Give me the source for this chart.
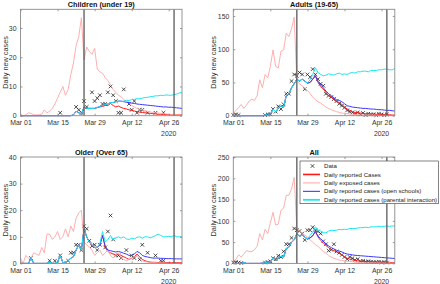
<!DOCTYPE html>
<html>
<head>
<meta charset="utf-8">
<script src="https://cdn.jsdelivr.net/npm/d3@7"></script>
<style>
  body { margin: 0; background: #fff; }
  svg { display: block; font-family: "Liberation Sans", Arial, sans-serif; }
</style>
</head>
<body>
<script>
// daily values, one entry per day from 2020-03-01 to 2020-05-01
// prettier-ignore
const childrenExposed = [
  0, 0, 0.3, 1, 0.8, 0.3, 0.3, 0.3, 0.5, 2,
  1, 1.5, 2.5, 4, 6, 8, 10, 7, 9, 14,
  18, 24, 27, 33.5, 19, 23.5, 22, 21, 23, 16,
  15, 14.5, 13, 12, 10.5, 9, 8, 7, 6.5, 5.5,
  5, 4.5, 3.5, 3, 2.5, 2.2, 2, 1.8, 1.5, 1.3,
  1.1, 1, 0.9, 0.8, 0.7, 0.6, 0.5, 0.4, 0.4, 0.3,
  0.3, 0.3];
// prettier-ignore
const childrenReported = [
  0, 0, 0, 0, 0, 0, 0, 0, 0, 0,
  0, 0, 0, 0, 0, 0, 0, 0, 0, 0,
  0.3, 1.5, 1, 0.5, 3, 2.5, 2.5, 2.5, 2.5, 2.8,
  3, 3.2, 3.5, 3.5, 4.2, 3.5, 3, 3.3, 2.8, 2.5,
  2.3, 2, 1.8, 1.6, 1.4, 1.2, 1.1, 1, 0.9, 0.8,
  0.7, 0.6, 0.5, 0.5, 0.4, 0.4, 0.4, 0.3, 0.3, 0.3,
  0.3, 0.3];
// prettier-ignore
const childrenOpenSchools = [
  0, 0, 0, 0, 0, 0, 0, 0, 0, 0,
  0, 0, 0, 0, 0, 0, 0, 0, 0, 0,
  0.3, 1.5, 1, 0.5, 3, 2.5, 2.5, 2.5, 2.5, 2.8,
  3.2, 3.5, 3.8, 4, 4.5, 4.5, 4.8, 5, 5, 4.8,
  4.6, 4.5, 4.3, 4.2, 4, 3.9, 3.8, 3.7, 3.6, 3.5,
  3.4, 3.3, 3.2, 3.1, 3, 3, 2.9, 2.9, 2.8, 2.7,
  2.6, 2.5];
// prettier-ignore
const childrenParental = [
  0, 0, 0, 0, 0, 0, 0, 0, 0, 0,
  0, 0, 0, 0, 0, 0, 0, 0, 0, 0,
  0.3, 1.5, 1, 0.5, 3, 2.5, 2.5, 2.5, 2.5, 2.8,
  3.2, 3.5, 3.8, 4, 4.5, 4.5, 4.8, 5, 4.8, 5,
  5.3, 5.2, 5.5, 5.6, 5.8, 5.8, 6, 6.2, 6.3, 6.5,
  6.6, 6.8, 6.8, 7, 6.9, 7.1, 7, 7, 7.2, 7.4,
  7.8, 8];
// prettier-ignore
const childrenData = [
  null, null, null, null, null, null, null, null, null, null,
  null, null, null, null, null, 1, null, null, null, null,
  null, 3, 2, 1, 5, 3, null, 8, 5, 6,
  7, 4, 4, 8, 10, 7, 5, 1, 1, 9,
  null, 4, 2, 5, 1, 2, 2, null, 1, null,
  null, 1, null, null, 1, null, null, null, null, null,
  null, null];

// prettier-ignore
const adultsExposed = [
  3, 8, 12, 17, 11, 16, 22, 25, 23, 30,
  54, 42, 62, 57, 74, 99, 74, 72, 97, 99,
  124, 119, 131, 148, 52, 48, 45, 42, 38, 33,
  28, 24, 21, 19, 16, 13, 11, 9, 7.5, 6,
  5, 4, 3.5, 3, 2.5, 2, 1.8, 1.6, 1.4, 1.2,
  1.1, 1, 0.9, 0.8, 0.8, 0.7, 0.6, 0.6, 0.5, 0.5,
  0.5, 0.5];
// prettier-ignore
const adultsReported = [
  0, 0, 0, 0, 0, 0, 0, 0, 0, 0,
  0, 0, 1, 3, 2, 10, 6, 11, 15, 13,
  30, 33, 42, 48, 55, 52, 55, 52, 49, 50,
  55, 60, 50, 44, 40, 35, 30, 28, 24, 21,
  20, 17, 13, 10, 8, 6, 5, 4.5, 4, 3.5,
  3, 3, 2.5, 2.5, 2, 2, 2, 1.5, 1.5, 1.5,
  1, 1];
// prettier-ignore
const adultsOpenSchools = [
  0, 0, 0, 0, 0, 0, 0, 0, 0, 0,
  0, 0, 1, 3, 2, 10, 6, 11, 15, 13,
  30, 33, 42, 48, 55, 52, 55, 52, 49, 50,
  55, 60, 52, 46, 42, 37, 33, 30, 27, 24,
  23, 21, 18, 15, 14, 13, 12.5, 12, 11.5, 11,
  11, 10.5, 10, 10, 9.5, 9, 9, 8.5, 8, 8,
  7.5, 7];
// prettier-ignore
const adultsParental = [
  0, 0, 0, 0, 0, 0, 0, 0, 0, 0,
  0, 0, 1, 3, 2, 10, 6, 11, 15, 13,
  30, 33, 42, 48, 55, 52, 55, 52, 49, 54,
  62, 72, 65, 62, 60, 61, 63, 62, 61, 63,
  64, 62, 63, 62, 64, 65, 64, 66, 66, 67,
  67, 66, 68, 68, 68, 69, 69, 70, 70, 69,
  69, 71];
// prettier-ignore
const adultsData = [
  1, 2, 1, null, null, null, null, null, null, null,
  null, null, 1, 2, 2, 10, 6, 14, 10, 17,
  33, 33, 52, 62, 60, 65, 62, 40, 62, 58,
  70, 62, 55, 48, 45, 33, 30, 28, 25, 22,
  18, 15, 12, 8, 6, 5, 3, 5, 2, 4,
  1, 3, 2, 2, 1, 3, 2, 1, 2, null,
  null, null];

// prettier-ignore
const olderExposed = [
  2, 0, 3, 2, 2, 4, 3.5, 3, 6, 4,
  11, 11, 9, 10, 12, 9, 10, 13, 10, 14,
  12, 17, 19, 20, 8, 7, 6, 5, 3, 4,
  5, 3, 4, 5, 3, 2, 3, 4, 2, 1.5,
  1, 1.5, 2, 2.5, 3, 2, 1, 0.7, 0.5, 0.4,
  0.3, 0.3, 0.2, 0.2, 0.2, 0.1, 0.1, 0.1, 0.1, 0.1,
  0.1, 0.1];
// prettier-ignore
const olderReported = [
  0, 0, 0, 0, 2, 0, 0, 0, 0, 0,
  0, 0.5, 0, 0, 0.5, 3, 0.3, 0.5, 1, 2,
  2.5, 5, 7, 5, 13, 10, 8, 7, 6, 6,
  7, 10.5, 6, 4.5, 4, 3.5, 3, 3.5, 3, 2.5,
  2, 1.5, 2, 2.5, 3.5, 2.5, 1.5, 1, 0.7, 0.5,
  0.4, 0.4, 0.3, 0.3, 0.3, 0.3, 0.3, 0.3, 0.3, 0.3,
  0.3, 0.3];
// prettier-ignore
const olderOpenSchools = [
  0, 0, 0, 0, 2, 0, 0, 0, 0, 0,
  0, 0.5, 0, 0, 0.5, 3, 0.3, 0.5, 1, 2,
  2.5, 5, 7, 5, 13, 10, 8, 7, 6, 6,
  7, 10.5, 6.5, 5, 4.8, 4.5, 4.3, 4.5, 4.2, 3.8,
  3.5, 3, 3, 3.5, 4.5, 4, 3, 2.6, 2.4, 2.2,
  2, 2, 2, 1.9, 1.9, 1.8, 1.8, 1.8, 1.7, 1.7,
  1.7, 1.7];
// prettier-ignore
const olderParental = [
  0, 0, 0, 0, 2, 0, 0, 0, 0, 0,
  0, 0.5, 0, 0, 0.5, 3, 0.3, 0.5, 1, 2,
  2.5, 5, 7, 5, 13, 10, 8, 7, 6, 6,
  7.5, 12, 8, 9, 10.5, 9, 9.5, 10, 9.5, 10,
  9.2, 9, 9.5, 9.2, 9.8, 10, 9.5, 10, 10, 9.6,
  10, 10.5, 11, 10.5, 10, 10, 10.2, 10, 10.5, 10,
  10, 10];
// prettier-ignore
const olderData = [
  null, null, null, null, 2, null, null, null, null, null,
  null, 1, null, 1, null, 3, null, null, 1, 4,
  4, 7, 7, 5, 14, 13, 8.5, 6.5, 7, 5,
  7, null, 6, 12, 18, 9, 3, 3, 2, null,
  5, null, 3, 2, null, 1.5, 7, null, 4, null,
  null, 3, null, 1, 1, null, null, null, null, null,
  null, null];

// prettier-ignore
const allExposed = [
  5, 10, 20, 15, 22, 30, 28, 28, 32, 40,
  70, 55, 80, 70, 95, 120, 90, 92, 125, 130,
  160, 160, 175, 202, 82, 76, 72, 66, 62, 55,
  50, 44, 40, 34, 28, 24, 18, 15, 12, 10,
  8, 7, 6, 5, 4.5, 4, 3, 2.5, 2, 1.8,
  1.5, 1.4, 1.3, 1.2, 1.1, 1, 1, 0.9, 0.9, 0.8,
  0.8, 0.8];
// prettier-ignore
const allReported = [
  0, 0, 0, 0, 2, 0, 0, 0, 0, 0,
  0, 0.5, 1, 3, 3, 13, 7, 12, 17, 15,
  35, 38, 50, 55, 70, 64, 66, 62, 57, 60,
  65, 75, 62, 54, 48, 42, 37, 33, 30, 27,
  24, 20, 16, 12, 10, 8, 7, 6, 5, 5,
  4.5, 4, 4, 3.5, 3.5, 3, 3, 3, 2.5, 2.5,
  2, 2];
// prettier-ignore
const allOpenSchools = [
  0, 0, 0, 0, 2, 0, 0, 0, 0, 0,
  0, 0.5, 1, 3, 3, 13, 7, 12, 17, 15,
  35, 38, 50, 55, 70, 64, 66, 62, 57, 60,
  65, 75, 64, 58, 52, 46, 41, 37, 34, 31,
  29, 27, 24, 22, 21, 20, 19, 18.5, 18, 17.5,
  17, 16.5, 16, 15.5, 15, 14.5, 14, 13.5, 13, 12.5,
  12, 11.5];
// prettier-ignore
const allParental = [
  0, 0, 0, 0, 2, 0, 0, 0, 0, 0,
  0, 0.5, 1, 3, 3, 13, 7, 12, 17, 15,
  35, 38, 50, 55, 70, 64, 66, 62, 57, 66,
  74, 86, 78, 76, 72, 72, 76, 78, 77, 78,
  80, 79, 80, 80, 82, 82, 82, 83, 84, 84,
  85, 84, 86, 86, 86, 87, 87, 87, 88, 87,
  88, 88];
// prettier-ignore
const allData = [
  2, 3, 2, 1, null, null, null, null, null, null,
  null, null, 2, 3, 5, 12, 10, 18, 15, 28,
  45, 45, 60, 82, 78, 76, 70, 55, 78, 78,
  85, 78, 75, 70, 52, 45, 30, 32, 45, 28,
  25, 20, 15, 10, 15, 12, 8, 10, 5, 6,
  4, 5, 4, 3, 3, 4, 2, 3, 2, null,
  null, null];

const startDate = "2020-03-01";
const endDate = "2020-05-01";
const tickDates = ["2020-03-01", "2020-03-15", "2020-03-29", "2020-04-12", "2020-04-26"];
const markerDates = ["2020-03-25", "2020-04-28"];

const legendLabels = [
  "Data",
  "Daily reported Cases",
  "Daily exposed cases",
  "Daily reported cases (open schools)",
  "Daily reported cases (parental interaction)",
];

const width = 440;
const height = 284;
const plotWidth = 161.5;
const plotHeight = 106.4;

const colors = {
  reported: "#ff1a1a",
  exposed: "#ffa6a6",
  openSchools: "#3a3aff",
  parental: "#1ee6f0",
};

const parseDate = d3.timeParse("%Y-%m-%d");
const tickFormat = d3.timeFormat("%b %d");
const dates = childrenExposed.map((_, i) => d3.timeDay.offset(parseDate(startDate), i));

const panels = [
  {
    title: "Children (under 19)", yMax: 36.4, yTicks: [0, 10, 20, 30],
    exposed: childrenExposed, reported: childrenReported, openSchools: childrenOpenSchools,
    parental: childrenParental, data: childrenData,
    left: 20.5, top: 9.3, labelX: 5,
  },
  {
    title: "Adults (19-65)", yMax: 160, yTicks: [0, 50, 100, 150],
    exposed: adultsExposed, reported: adultsReported, openSchools: adultsOpenSchools,
    parental: adultsParental, data: adultsData,
    left: 233.3, top: 9.3, labelX: 213,
  },
  {
    title: "Older (Over 65)", yMax: 40, yTicks: [0, 10, 20, 30, 40],
    exposed: olderExposed, reported: olderReported, openSchools: olderOpenSchools,
    parental: olderParental, data: olderData,
    left: 20.5, top: 157, labelX: 5,
  },
  {
    title: "All", yMax: 250, yTicks: [0, 50, 100, 150, 200, 250],
    exposed: allExposed, reported: allReported, openSchools: allOpenSchools,
    parental: allParental, data: allData,
    left: 233.3, top: 157, labelX: 213, legend: true,
  },
];

const svg = d3
  .select("body")
  .append("svg")
  .attr("width", width)
  .attr("height", height);

const crossPath = (s) => `M${-s},${-s}L${s},${s}M${-s},${s}L${s},${-s}`;

const drawPanel = (p) => {
  const xScale = d3
    .scaleTime()
    .domain([parseDate(startDate), parseDate(endDate)])
    .range([p.left, p.left + plotWidth]);
  const yScale = d3
    .scaleLinear()
    .domain([0, p.yMax])
    .range([p.top + plotHeight, p.top]);

  const g = svg.append("g");

  const line = (values) =>
    d3
      .line()
      .defined((d) => d != null)
      .x((_, i) => xScale(dates[i]))
      .y((d) => yScale(d))(values);

  // data markers
  g.append("g")
    .selectAll("path")
    .data(p.data.map((v, i) => ({ v, date: dates[i] })).filter((d) => d.v != null))
    .join("path")
    .attr("transform", (d) => `translate(${xScale(d.date)},${yScale(d.v)})`)
    .attr("d", crossPath(1.8))
    .attr("stroke", "#222")
    .attr("stroke-width", 0.8)
    .attr("fill", "none");

  const series = [
    { values: p.reported, color: colors.reported, w: 1 },
    { values: p.exposed, color: colors.exposed, w: 0.9 },
    { values: p.openSchools, color: colors.openSchools, w: 1 },
    { values: p.parental, color: colors.parental, w: 1 },
  ];

  g.append("g")
    .selectAll("path")
    .data(series)
    .join("path")
    .attr("d", (d) => line(d.values))
    .attr("fill", "none")
    .attr("stroke", (d) => d.color)
    .attr("stroke-width", (d) => d.w)
    .attr("stroke-linejoin", "round");

  // intervention lines
  g.append("g")
    .selectAll("line")
    .data(markerDates.map(parseDate))
    .join("line")
    .attr("x1", (d) => xScale(d))
    .attr("x2", (d) => xScale(d))
    .attr("y1", p.top)
    .attr("y2", p.top + plotHeight)
    .attr("stroke", "#5a5a5a")
    .attr("stroke-width", 1.3);

  // axes
  const xAxis = d3
    .axisBottom(xScale)
    .tickValues(tickDates.map(parseDate))
    .tickFormat(tickFormat)
    .tickSize(-2)
    .tickPadding(4.5);
  const xAxisTop = d3
    .axisTop(xScale)
    .tickValues(tickDates.map(parseDate))
    .tickFormat("")
    .tickSize(-2);
  const yAxis = d3
    .axisLeft(yScale)
    .tickValues(p.yTicks)
    .tickSize(-2)
    .tickPadding(4);
  const yAxisRight = d3
    .axisRight(yScale)
    .tickValues(p.yTicks)
    .tickFormat("")
    .tickSize(-2);

  const axes = [
    { axis: xAxis, t: `translate(0,${p.top + plotHeight})` },
    { axis: xAxisTop, t: `translate(0,${p.top})` },
    { axis: yAxis, t: `translate(${p.left},0)` },
    { axis: yAxisRight, t: `translate(${p.left + plotWidth},0)` },
  ];
  axes.forEach((a) => {
    const ga = g.append("g").attr("transform", a.t).call(a.axis);
    ga.select(".domain").remove();
    ga.selectAll("line").attr("stroke", "#555").attr("stroke-width", 0.6);
    ga.selectAll("text")
      .attr("fill", "#333")
      .style("font-size", "6.9px")
      .style("font-family", "Liberation Sans, Arial, sans-serif");
  });

  g.append("text")
    .attr("x", xScale(parseDate(tickDates[tickDates.length - 1])))
    .attr("y", p.top + plotHeight + 20.3)
    .attr("text-anchor", "middle")
    .attr("fill", "#333")
    .style("font-size", "6.9px")
    .text("2020");

  g.append("rect")
    .attr("x", p.left)
    .attr("y", p.top)
    .attr("width", plotWidth)
    .attr("height", plotHeight)
    .attr("fill", "none")
    .attr("stroke", "#8a8a8a")
    .attr("stroke-width", 0.9);

  g.append("text")
    .attr("x", p.left + plotWidth / 2)
    .attr("y", p.top - 2)
    .attr("text-anchor", "middle")
    .attr("fill", "#111")
    .style("font-size", "7.3px")
    .style("font-weight", "bold")
    .text(p.title);

  g.append("text")
    .attr("transform", `translate(${p.labelX},${p.top + plotHeight / 2}) rotate(-90)`)
    .attr("text-anchor", "middle")
    .attr("dominant-baseline", "central")
    .attr("fill", "#333")
    .style("font-size", "7.3px")
    .text("Daily new cases");

  if (p.legend) drawLegend();
};

const drawLegend = () => {
  const lg = svg.append("g").attr("transform", "translate(300,161)");
  lg.append("rect")
    .attr("width", 138.5)
    .attr("height", 42.7)
    .attr("fill", "#fff")
    .attr("stroke", "#333")
    .attr("stroke-width", 0.6);

  const items = [
    { label: legendLabels[0], marker: true },
    { label: legendLabels[1], color: colors.reported, w: 1.6 },
    { label: legendLabels[2], color: colors.exposed, w: 1 },
    { label: legendLabels[3], color: colors.openSchools, w: 1.1 },
    { label: legendLabels[4], color: colors.parental, w: 1.8 },
  ];

  const row = lg
    .selectAll("g.item")
    .data(items)
    .join("g")
    .attr("class", "item")
    .attr("transform", (_, i) => `translate(0,${5 + i * 8.45})`);

  row.filter((d) => d.marker)
    .append("path")
    .attr("transform", "translate(12.5,0)")
    .attr("d", crossPath(1.8))
    .attr("stroke", "#222")
    .attr("stroke-width", 0.8);

  row.filter((d) => !d.marker)
    .append("line")
    .attr("x1", 3)
    .attr("x2", 20)
    .attr("stroke", (d) => d.color)
    .attr("stroke-width", (d) => d.w);

  row.append("text")
    .attr("x", 24)
    .attr("dy", "0.35em")
    .attr("fill", "#222")
    .style("font-size", "6.1px")
    .text((d) => d.label);
};

panels.forEach(drawPanel);
</script>
</body>
</html>
